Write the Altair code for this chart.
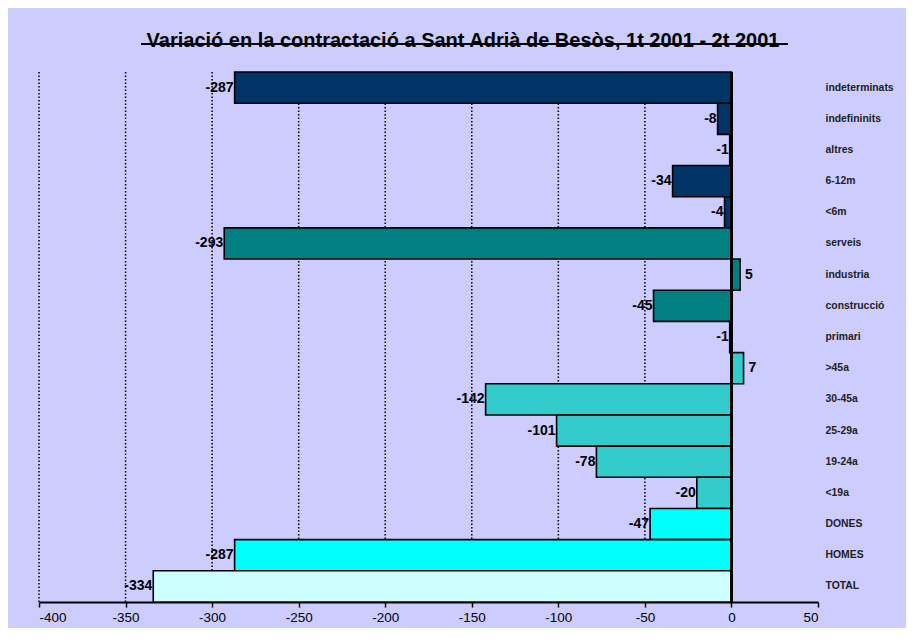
import altair as alt
import pandas as pd

categories = ["indeterminats", "indefininits", "altres", "6-12m", "<6m",
              "serveis", "industria", "construcció", "primari",
              ">45a", "30-45a", "25-29a", "19-24a", "<19a",
              "DONES", "HOMES", "TOTAL"]
values = [-287, -8, -1, -34, -4, -293, 5, -45, -1, 7, -142, -101, -78, -20, -47, -287, -334]
groups = ["contracte"] * 5 + ["sector"] * 4 + ["edat"] * 5 + ["sexe", "sexe", "total"]
group_names = ["contracte", "sector", "edat", "sexe", "total"]
group_colors = ["#003366", "#008080", "#33CCCC", "#00FFFF", "#CCFFFF"]
tick_values = [-400, -350, -300, -250, -200, -150, -100, -50, 0, 50]
grid_values = [-400, -350, -300, -250, -200, -150, -100, -50]
title_text = "Variació en la contractació a Sant Adrià de Besòs, 1t 2001 - 2t 2001"

df = pd.DataFrame({"cat": categories, "val": values, "grp": groups})
df["lbl"] = [str(v) for v in values]
grid_df = pd.DataFrame({"g": grid_values})
title_df = pd.DataFrame({"t": [title_text]})

FONT = "Liberation Sans"

xscale = alt.Scale(domain=[-400, 50], nice=False, zero=False)
yscale = alt.Scale(domain=categories, paddingInner=0, paddingOuter=0)

grid = alt.Chart(grid_df).mark_rule(color="black", strokeDash=[1.5, 2], strokeWidth=1.5).encode(
    x=alt.X("g:Q", scale=xscale)
)

bars = alt.Chart(df).mark_bar(stroke="black", strokeWidth=1.6, cornerRadius=0).encode(
    x=alt.X("val:Q", scale=xscale,
            axis=alt.Axis(values=tick_values, title=None, grid=False, domainColor="black",
                          domainWidth=2, tickColor="black", tickWidth=1.5, tickSize=5,
                          labelFont=FONT, labelFontSize=13.5, labelColor="black",
                          labelPadding=3, labelExpr="'' + datum.value")),
    x2=alt.datum(0),
    y=alt.Y("cat:N", scale=yscale, sort=categories,
            axis=alt.Axis(orient="right", title=None, ticks=False, domain=False,
                          labelFont=FONT, labelFontSize=10.4, labelFontWeight="bold",
                          labelColor="#222222", labelPadding=7, labelAlign="left")),
    color=alt.Color("grp:N", scale=alt.Scale(domain=group_names, range=group_colors), legend=None),
)

zero_line = alt.Chart(df).mark_rule(color="black", strokeWidth=2).encode(
    x=alt.datum(0),
)

neg_text = alt.Chart(df).transform_filter("datum.val < 0").mark_text(
    align="right", baseline="middle", dx=-1, font=FONT, fontSize=14, fontWeight="bold", color="black"
).encode(x=alt.X("val:Q", scale=xscale), y=alt.Y("cat:N", scale=yscale, sort=categories),
         text="lbl:N")

pos_text = alt.Chart(df).transform_filter("datum.val > 0").mark_text(
    align="left", baseline="middle", dx=5, font=FONT, fontSize=14, fontWeight="bold", color="black"
).encode(x=alt.X("val:Q", scale=xscale), y=alt.Y("cat:N", scale=yscale, sort=categories),
         text="lbl:N")

title = alt.Chart(title_df).mark_text(
    align="center", baseline="alphabetic", font=FONT, fontSize=20, fontWeight="bold", color="black"
).encode(x=alt.value(424), y=alt.value(-25), text="t:N")

strike = alt.Chart(title_df).mark_rule(color="black", strokeWidth=2).encode(
    x=alt.value(102), x2=alt.value(749), y=alt.value(-28)
)

chart = alt.layer(grid, bars, zero_line, neg_text, pos_text, title, strike).properties(
    width=779, height=530,
    background="#CCCCFF",
    padding={"left": 31, "top": 64, "right": 88, "bottom": 26},
    autosize=alt.AutoSizeParams(type="none"),
).configure_view(stroke=None, fill="#CCCCFF")

chart.save("out.html", embed_options={"renderer": "svg", "actions": False})
